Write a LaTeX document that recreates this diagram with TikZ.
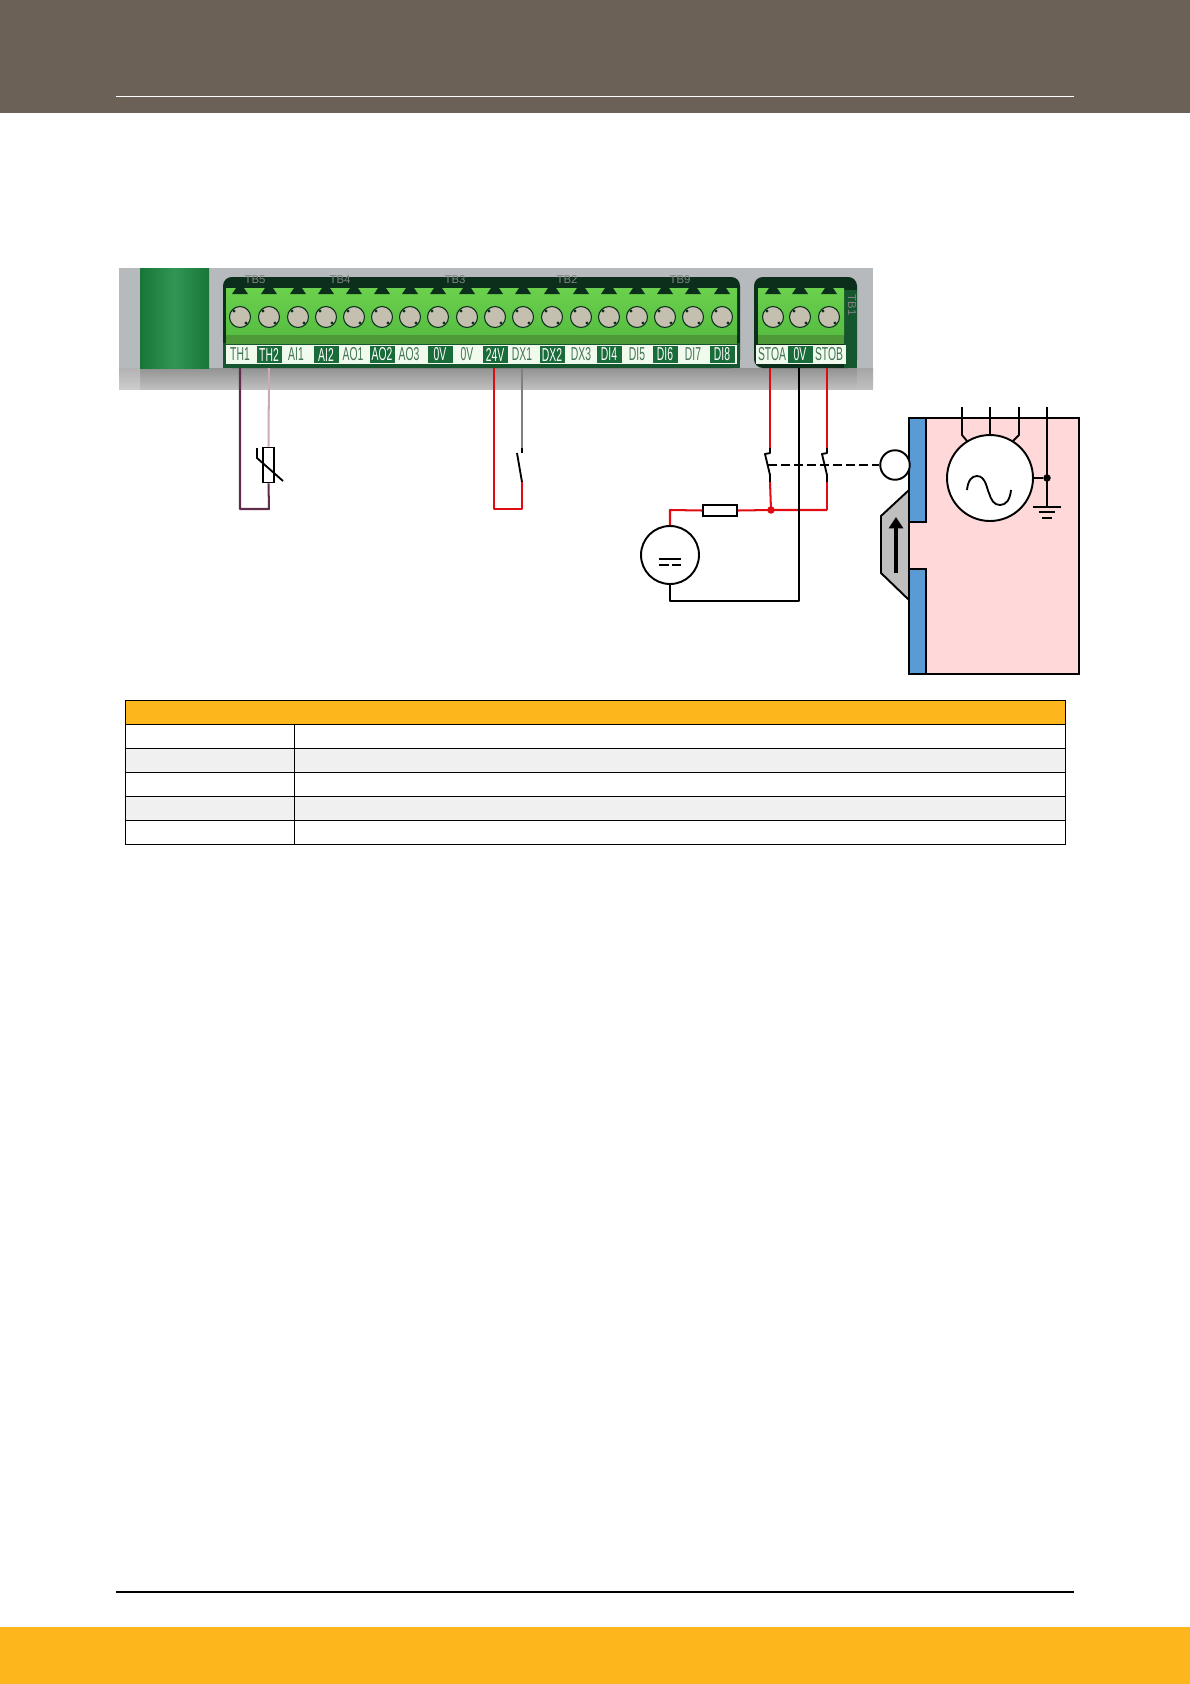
\documentclass[tikz,border=0pt]{standalone}
\usepackage{fontspec}
\setsansfont{Liberation Sans}
\usetikzlibrary{calc,arrows.meta,positioning}
\definecolor{headbrown}{HTML}{6B6156}
\definecolor{bandyellow}{HTML}{FDB71C}
\definecolor{casegrey}{HTML}{B6BABC}
\definecolor{blockgreen}{HTML}{1B8A42}
\definecolor{paneldark}{HTML}{0B2F1B}
\definecolor{plugtop}{HTML}{6BD04C}
\definecolor{plugbot}{HTML}{58BE42}
\definecolor{plugshade}{HTML}{4E9A38}
\definecolor{labelgreen}{HTML}{1A6B3A}
\definecolor{screwgrey}{HTML}{C4BFAF}
\definecolor{wirered}{HTML}{E00C14}
\definecolor{wirepurple}{HTML}{602C4C}
\definecolor{wirepink}{HTML}{D0A8B8}
\definecolor{wiregrey}{HTML}{808080}
\definecolor{boxpink}{HTML}{FFD9D9}
\definecolor{stripblue}{HTML}{5B9BD5}
\definecolor{flapgrey}{HTML}{BFBFBF}
\definecolor{rowgrey}{HTML}{F0F0F0}
\newcommand{\termtext}[1]{\scalebox{0.62}[1.12]{\sffamily #1}}
\tikzset{
  wire/.style={line width=1.15pt},
  thinwire/.style={line width=1.05pt},
  termlight/.style={minimum width=.5cm,minimum height=.34cm,inner sep=0pt,text=labelgreen!60!gray,font=\fontsize{9.5}{10}\selectfont},
  termdark/.style={termlight,fill=labelgreen,text=white},
  screw/.style={circle,draw=paneldark,fill=screwgrey,line width=.6pt,minimum size=.42cm,inner sep=0pt},
  tblabel/.style={inner sep=0pt,text=casegrey!70!black,font=\sffamily\fontsize{6.5}{7}\selectfont},
  component/.style={draw=black,line width=1.1pt,fill=white,inner sep=0pt},
  blob/.style={circle,inner sep=0pt,minimum size=.15cm}
}
\begin{document}
\begin{tikzpicture}[x=0.02cm,y=-0.02cm]
          \useasboundingbox (0,0) rectangle (1190,1684);

          \fill[headbrown] (0,0) rectangle (1190,113);
          \draw[white,line width=.5pt] (116,96) -- (1074,96);
          \fill[bandyellow] (0,1627) rectangle (1190,1684);
          \draw[black,line width=1pt] (116,1592) -- (1074,1592);

          \fill[casegrey] (119,268) rectangle (873,368);
          \shade[top color=gray!85,bottom color=gray!50] (140,368) rectangle (857,389);
          \shade[top color=gray!60,bottom color=gray!40] (119,368) rectangle (140,389);
          \shade[top color=gray!70,bottom color=gray!50] (857,368) rectangle (873,389);
          \shade[left color=blockgreen!85!black,right color=blockgreen!85!black,middle color=blockgreen!90!white] (140,268) rectangle (209,368);

          \fill[paneldark,rounded corners=5pt] (223,277) rectangle (740,368);
          \fill[paneldark,rounded corners=5pt] (754,277) rectangle (857,368);
          \fill[labelgreen!80!black] (223,343) rectangle (740,368);
          \fill[labelgreen!80!black] (844,290) rectangle (857,368);
          \shade[top color=plugtop,bottom color=plugbot] (226,288) rectangle (737,335);
          \shade[top color=plugtop,bottom color=plugbot] (758,288) rectangle (844,335);
          \fill[plugshade] (226,335) rectangle (737,344);
          \fill[plugshade] (758,335) rectangle (844,344);
          \fill[white!90!plugtop] (226,345) rectangle (737,364);
          \fill[white!90!plugtop] (756,345) rectangle (846,364);

          \node[tblabel] (tbfive) at (255,280) {TB5};
          \node[tblabel] (tbfour) at (340,280) {TB4};
          \node[tblabel] (tbthree) at (455,280) {TB3};
          \node[tblabel] (tbtwo) at (567,280) {TB2};
          \node[tblabel] (tbnine) at (680,280) {TB9};
          \node[tblabel,rotate=-90] (tbone) at (852,305) {TB1};

          \foreach \xpos in {240,269,298,326,354,382,410,438,467,495,523,552,581,609,637,665,693,722,773,800,829} {
            \fill[paneldark] (\xpos-8,294) -- (\xpos-4,288) -- (\xpos+4,288) -- (\xpos+8,294) -- cycle;
            \node[screw] (screw\xpos) at (\xpos,317) {};
            \fill[paneldark] (\xpos-6,311) circle (1.6);
            \fill[paneldark] (\xpos+6,323) circle (1.6);
          }

          \foreach \name/\xpos/\txt/\sty in {THone/240/TH1/termlight,THtwo/269/TH2/termdark,AIone/296/AI1/termlight,AItwo/326/AI2/termdark,AOone/353/AO1/termlight,AOtwo/382/AO2/termdark,AOthree/409/AO3/termlight,OVa/440/0V/termdark,OVb/467/0V/termlight,TFV/495/24V/termdark,DXone/522/DX1/termlight,DXtwo/552/DX2/termdark,DXthree/581/DX3/termlight,DIfour/609/DI4/termdark,DIfive/637/DI5/termlight,DIsix/665/DI6/termdark,DIseven/693/DI7/termlight,DIeight/722/DI8/termdark,STOA/772/STOA/termlight,OVc/800/0V/termdark,STOB/829/STOB/termlight} {
            \node[\sty] (\name) at (\xpos,354.5) {\termtext{\txt}};
          }

          \coordinate (footTHone) at (240,368);
          \coordinate (footTHtwo) at (269,368);
          \coordinate (footTFV) at (494,368);
          \coordinate (footDXone) at (522,368);
          \coordinate (footSTOA) at (770,368);
          \coordinate (footOVc) at (799,368);
          \coordinate (footSTOB) at (827,368);

          \node[component,minimum width=.22cm,minimum height=.7cm] (thermistor) at (268.5,465) {};
          \coordinate (thermcornerL) at (240,509);
          \coordinate (thermcornerR) at (269,509);
          \draw[wire,wirepink] (footTHtwo) -- (thermistor.north);
          \draw[wire,wirepurple,line join=round] (thermistor.south) -- (thermcornerR) -- (thermcornerL) -- (footTHone);
          \draw[thinwire] (257,448) -- (257,458) -- (283,481);

          \coordinate (dxtip) at (522,448);
          \coordinate (dxgap) at (522,453);
          \coordinate (dxblade) at (517,453);
          \coordinate (dxlow) at (522,482);
          \coordinate (dxcornerL) at (494,509);
          \coordinate (dxcornerR) at (522,509);
          \draw[wire,wiregrey] (footDXone) -- (dxtip);
          \draw[thinwire] (dxtip) -- (dxgap);
          \draw[thinwire] (dxblade) -- (dxlow);
          \draw[wire,wirered,line join=round] (dxlow) -- (dxcornerR) -- (dxcornerL) -- (footTFV);

          \node[component,minimum width=.68cm,minimum height=.22cm] (fuse) at (720,510.5) {};
          \node[component,circle,minimum size=1.16cm] (supply) at (670,555) {};
          \node[blob,fill=wirered] (reddot) at (771,510) {};
          \coordinate (supplycorner) at (670,510);
          \coordinate (blackcornerL) at (670,601);
          \coordinate (blackcornerR) at (799,601);
          \coordinate (stobcorner) at (827,510);
          \draw[wire,wirered,line join=round] (supply.north) -- (supplycorner) -- (fuse.west);
          \draw[wire,wirered] (fuse.east) -- (reddot.center) -- (stobcorner);
          \draw[wire,line join=round] (footOVc) -- (blackcornerR) -- (blackcornerL) -- (supply.south);
          \draw[thinwire] (659,559) -- (681,559);
          \draw[thinwire] (659,565) -- (669,565);
          \draw[thinwire] (672,565) -- (681,565);

          \draw[wire,wirered] (footSTOA) -- (770,448);
          \draw[thinwire,line join=round] (770,448) -- (770,453) -- (765,454) -- (770,475) -- (770,482);
          \draw[wire,wirered] (770,482) -- (reddot.center);
          \draw[wire,wirered] (footSTOB) -- (827,448);
          \draw[thinwire,line join=round] (827,448) -- (827,453) -- (822,454) -- (827,475) -- (827,482);
          \draw[wire,wirered] (827,482) -- (stobcorner);

          \filldraw[fill=boxpink,draw=black,line width=1.1pt] (909,418) rectangle (1079,674);
          \filldraw[fill=stripblue,draw=black,line width=1.1pt] (909,418) rectangle (926,522);
          \filldraw[fill=stripblue,draw=black,line width=1.1pt] (909,569) rectangle (926,674);
          \filldraw[fill=flapgrey,draw=black,line width=1.1pt] (909,490) -- (881,516) -- (881,573) -- (909,600) -- cycle;
          \draw[line width=2.2pt,-{Triangle[length=6.5pt,width=8pt]}] (896,573) -- (896,517);

          \node[component,circle,minimum size=.59cm] (relay) at (895,465) {};
          \draw[line width=1.25pt,dash pattern=on 5pt off 2.4pt] (768,465) -- (relay.west);

          \node[component,circle,minimum size=1.72cm] (motor) at (990,478) {};
          \node[blob,fill=black] (earthdot) at (1047,478) {};
          \coordinate (termU) at (962,407);
          \coordinate (termV) at (990,407);
          \coordinate (termW) at (1019,407);
          \coordinate (termE) at (1047,407);
          \coordinate (gnd) at (1047,507);
          \draw[thinwire,line join=round] (termU) -- (962,435) -- (967,441);
          \draw[thinwire] (termV) -- (motor.north);
          \draw[thinwire,line join=round] (termW) -- (1019,435) -- (1013,441);
          \draw[thinwire] (termE) -- (gnd);
          \draw[thinwire] (motor.east) -- (earthdot);
          \draw[thinwire] (1033,507) -- (1061,507);
          \draw[thinwire] (1039,512) -- (1055,512);
          \draw[thinwire] (1042,518) -- (1052,518);
          \draw[thinwire] (967,490) .. controls (968,480) and (972,476) .. (977,476) .. controls (986,476) and (987,490) .. (989,493) .. controls (991,500) and (994,505) .. (1000,505) .. controls (1006,505) and (1010,500) .. (1011,490);

          \fill[bandyellow] (125,700) rectangle (1065,724);
          \fill[rowgrey] (125,748) rectangle (1065,772);
          \fill[rowgrey] (125,796) rectangle (1065,820);
          \draw[line width=.55pt] (125,700) rectangle (1065,844);
          \foreach \ypos in {724,748,772,796,820} {
            \draw[line width=.55pt] (125,\ypos) -- (1065,\ypos);
          }
          \draw[line width=.55pt] (294,724) -- (294,844);
\end{tikzpicture}
\end{document}
